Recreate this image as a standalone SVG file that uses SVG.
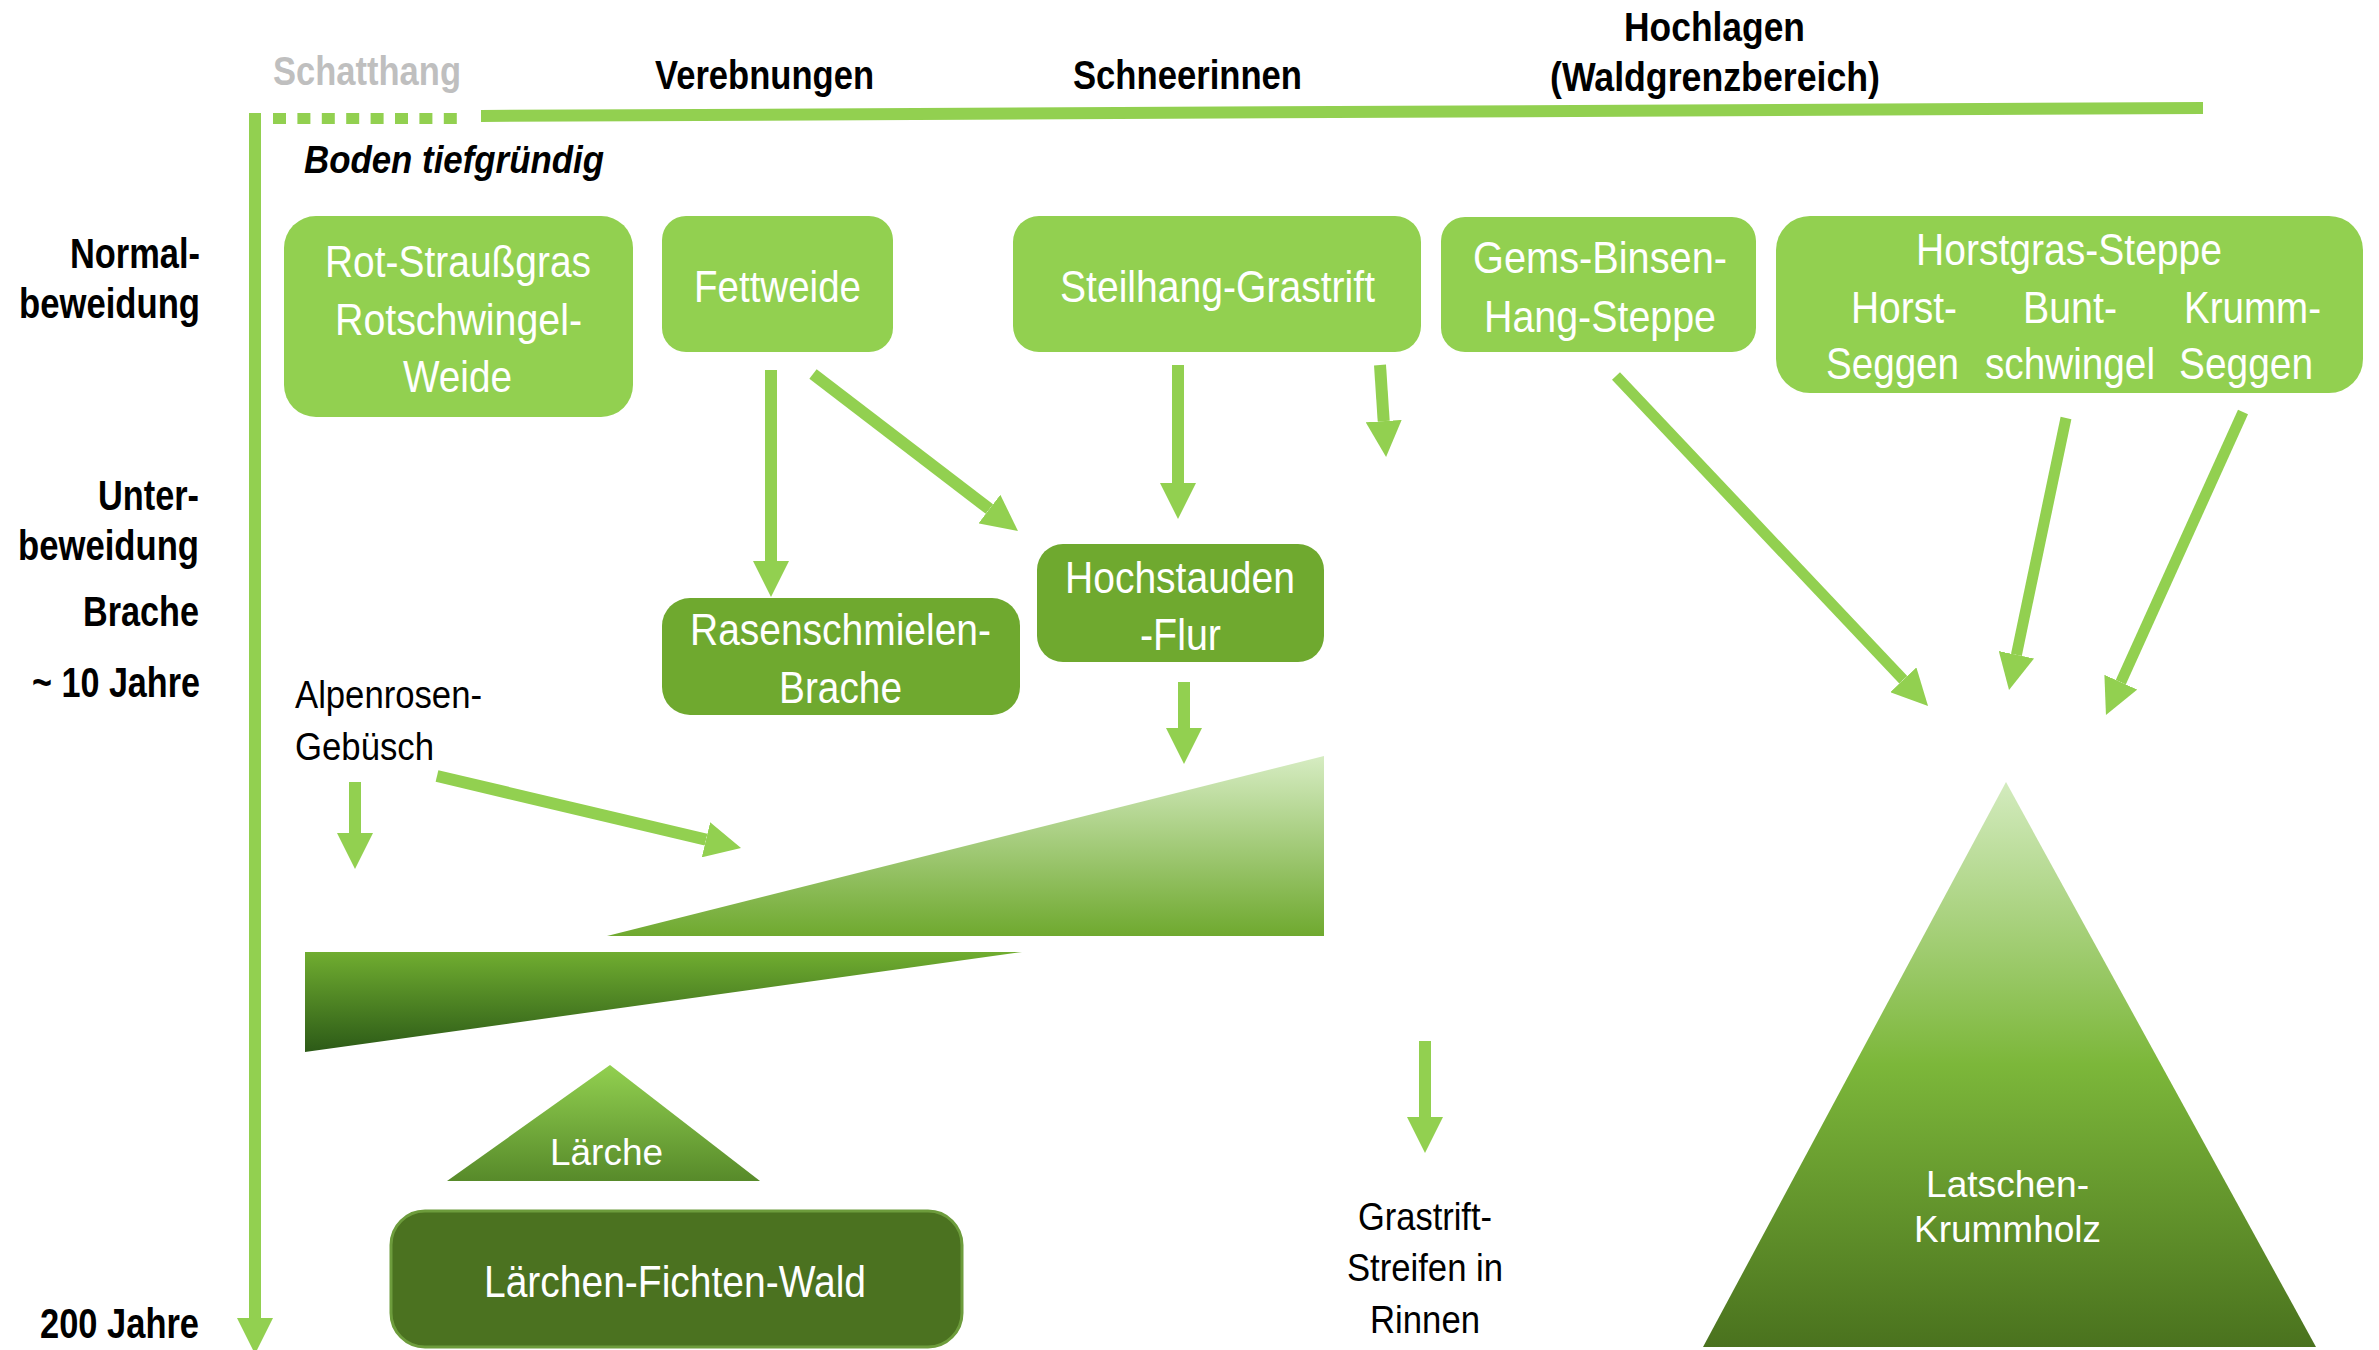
<svg xmlns="http://www.w3.org/2000/svg" width="2379" height="1350" viewBox="0 0 2379 1350">
<style>
text{font-family:"Liberation Sans",Arial,sans-serif}
.lbl{font-weight:bold;font-size:42px;fill:#000}
.hd{font-weight:bold;font-size:41px;fill:#000}
.wt{font-size:45px;fill:#fff}
.wts{font-size:36px;fill:#fff}
.bk{font-size:38px;fill:#000}
.lg{fill:#92d050}
.dg{fill:#6fa92f}
.ax{stroke:#92d050;fill:none}
.arr{stroke:#92d050;stroke-width:12;fill:none;marker-end:url(#ah)}
</style>
<defs>
<marker id="ah" markerUnits="userSpaceOnUse" markerWidth="36" markerHeight="36" viewBox="0 0 36 36" refX="0" refY="18" orient="auto">
<path d="M0,0 L36,18 L0,36 z" fill="#92d050"/>
</marker>
<linearGradient id="gHoch" x1="0" y1="0" x2="0" y2="1"><stop offset="0" stop-color="#d6ecc2"/><stop offset="1" stop-color="#6fa92f"/></linearGradient>
<linearGradient id="gAlp" x1="0" y1="0" x2="0" y2="1"><stop offset="0" stop-color="#70ad30"/><stop offset="1" stop-color="#2c5a17"/></linearGradient>
<linearGradient id="gLae" x1="0" y1="0" x2="0" y2="1"><stop offset="0" stop-color="#92d050"/><stop offset="1" stop-color="#578a2a"/></linearGradient>
<linearGradient id="gLat" x1="0" y1="0" x2="0" y2="1"><stop offset="0" stop-color="#d3ebbe"/><stop offset="0.5" stop-color="#7cb73a"/><stop offset="1" stop-color="#4a721e"/></linearGradient>
</defs>
<rect width="2379" height="1350" fill="#fff"/>

<g id="axes">
<line class="ax" x1="481" y1="116" x2="2203" y2="108" stroke-width="12"/>
<line class="ax" x1="273" y1="118.5" x2="457" y2="118.5" stroke-width="11" stroke-dasharray="13 11.4"/>
<line class="ax" x1="255" y1="113" x2="255" y2="1318" stroke-width="12" marker-end="url(#ah)"/>
</g>

<g id="labels">
<text class="lbl" x="70" y="268" textLength="130" lengthAdjust="spacingAndGlyphs">Normal-</text>
<text class="lbl" x="19" y="318" textLength="181" lengthAdjust="spacingAndGlyphs">beweidung</text>
<text class="lbl" x="98" y="510" textLength="101" lengthAdjust="spacingAndGlyphs">Unter-</text>
<text class="lbl" x="18" y="560" textLength="181" lengthAdjust="spacingAndGlyphs">beweidung</text>
<text class="lbl" x="83" y="626" textLength="116" lengthAdjust="spacingAndGlyphs">Brache</text>
<text class="lbl" x="32" y="697" textLength="168" lengthAdjust="spacingAndGlyphs">~ 10 Jahre</text>
<text class="lbl" x="40" y="1338" textLength="159" lengthAdjust="spacingAndGlyphs">200 Jahre</text>
<text class="hd" x="273" y="85" textLength="188" lengthAdjust="spacingAndGlyphs" fill="#bfbfbf" style="fill:#bfbfbf">Schatthang</text>
<text class="hd" x="655" y="89" textLength="219" lengthAdjust="spacingAndGlyphs">Verebnungen</text>
<text class="hd" x="1073" y="89" textLength="229" lengthAdjust="spacingAndGlyphs">Schneerinnen</text>
<text class="hd" x="1624" y="41" textLength="181" lengthAdjust="spacingAndGlyphs">Hochlagen</text>
<text class="hd" x="1550" y="91" textLength="330" lengthAdjust="spacingAndGlyphs">(Waldgrenzbereich)</text>
<text class="hd" x="304" y="173" textLength="300" lengthAdjust="spacingAndGlyphs" font-style="italic" style="font-size:39px">Boden tiefgründig</text>
</g>

<g id="connectors">
<line class="arr" x1="771" y1="370" x2="771" y2="561"/>
<line class="arr" x1="813" y1="374" x2="989.4" y2="509.1"/>
<line class="arr" x1="1178" y1="365" x2="1178" y2="483"/>
<line class="arr" x1="1380" y1="365" x2="1383.7" y2="421.1"/>
<line class="arr" x1="1184" y1="682" x2="1184" y2="728"/>
<line class="arr" x1="355" y1="782" x2="355" y2="833"/>
<line class="arr" x1="437" y1="776" x2="706" y2="839.7"/>
<line class="arr" x1="1425" y1="1041" x2="1425" y2="1117"/>
<line class="arr" x1="1616" y1="376" x2="1903.3" y2="679.8" style="stroke-width:11"/>
<line class="arr" x1="2066" y1="418" x2="2016.4" y2="654.8" style="stroke-width:11"/>
<line class="arr" x1="2243" y1="412" x2="2120.8" y2="682.2" style="stroke-width:11"/>
</g>

<g id="rotstraussgras">
<rect class="lg" x="284" y="216" width="349" height="201" rx="32"/>
<text class="wt" x="325" y="277" textLength="266" lengthAdjust="spacingAndGlyphs">Rot-Straußgras</text>
<text class="wt" x="335" y="335" textLength="247" lengthAdjust="spacingAndGlyphs">Rotschwingel-</text>
<text class="wt" x="403" y="392" textLength="109" lengthAdjust="spacingAndGlyphs">Weide</text>
</g>
<g id="fettweide">
<rect class="lg" x="662" y="216" width="231" height="136" rx="24"/>
<text class="wt" x="694" y="302" textLength="167" lengthAdjust="spacingAndGlyphs">Fettweide</text>
</g>
<g id="steilhang">
<rect class="lg" x="1013" y="216" width="408" height="136" rx="26"/>
<text class="wt" x="1060" y="302" textLength="315" lengthAdjust="spacingAndGlyphs">Steilhang-Grastrift</text>
</g>
<g id="gemsbinsen">
<rect class="lg" x="1441" y="217" width="315" height="135" rx="24"/>
<text class="wt" x="1473" y="273" textLength="254" lengthAdjust="spacingAndGlyphs">Gems-Binsen-</text>
<text class="wt" x="1484" y="332" textLength="232" lengthAdjust="spacingAndGlyphs">Hang-Steppe</text>
</g>
<g id="horstgras">
<rect class="lg" x="1776" y="216" width="587" height="177" rx="34"/>
<text class="wt" x="1916" y="265" textLength="306" lengthAdjust="spacingAndGlyphs">Horstgras-Steppe</text>
<text class="wt" x="1851" y="323" textLength="106" lengthAdjust="spacingAndGlyphs">Horst-</text>
<text class="wt" x="2023" y="323" textLength="94" lengthAdjust="spacingAndGlyphs">Bunt-</text>
<text class="wt" x="2184" y="323" textLength="137" lengthAdjust="spacingAndGlyphs">Krumm-</text>
<text class="wt" x="1826" y="379" textLength="133" lengthAdjust="spacingAndGlyphs">Seggen</text>
<text class="wt" x="1985" y="379" textLength="170" lengthAdjust="spacingAndGlyphs">schwingel</text>
<text class="wt" x="2179" y="379" textLength="134" lengthAdjust="spacingAndGlyphs">Seggen</text>
</g>
<g id="rasenschmielen">
<rect class="dg" x="662" y="598" width="358" height="117" rx="28"/>
<text class="wt" x="690" y="645" textLength="301" lengthAdjust="spacingAndGlyphs">Rasenschmielen-</text>
<text class="wt" x="779" y="703" textLength="123" lengthAdjust="spacingAndGlyphs">Brache</text>
</g>
<g id="hochstauden">
<rect class="dg" x="1037" y="544" width="287" height="118" rx="26"/>
<text class="wt" x="1065" y="593" textLength="230" lengthAdjust="spacingAndGlyphs">Hochstauden</text>
<text class="wt" x="1140" y="650" textLength="81" lengthAdjust="spacingAndGlyphs">-Flur</text>
</g>
<g id="hochstauden-keil">
<polygon points="607,936 1324,936 1324,756" fill="url(#gHoch)"/>
</g>
<g id="alpenrosen">
<text class="bk" x="295" y="708" textLength="187" lengthAdjust="spacingAndGlyphs">Alpenrosen-</text>
<text class="bk" x="295" y="760" textLength="139" lengthAdjust="spacingAndGlyphs">Gebüsch</text>
</g>
<g id="alpenrosen-keil">
<polygon points="305,952 1022,952 305,1052" fill="url(#gAlp)"/>
</g>
<g id="laerche">
<polygon points="610,1065 760,1181 447,1181" fill="url(#gLae)"/>
<text class="wts" x="550" y="1165" textLength="113" lengthAdjust="spacingAndGlyphs">Lärche</text>
</g>
<g id="laerchen-fichten-wald">
<rect x="391" y="1211" width="571" height="136" rx="34" fill="#4b7220" stroke="#6d9c3c" stroke-width="3"/>
<text class="wt" x="484" y="1297" textLength="382" lengthAdjust="spacingAndGlyphs">Lärchen-Fichten-Wald</text>
</g>
<g id="grastrift-streifen">
<text class="bk" x="1358" y="1230" textLength="134" lengthAdjust="spacingAndGlyphs">Grastrift-</text>
<text class="bk" x="1347" y="1281" textLength="156" lengthAdjust="spacingAndGlyphs">Streifen in</text>
<text class="bk" x="1370" y="1333" textLength="110" lengthAdjust="spacingAndGlyphs">Rinnen</text>
</g>
<g id="latschen">
<polygon points="2006,782 2316,1347 1703,1347" fill="url(#gLat)"/>
<text class="wts" x="1926" y="1197" textLength="163" lengthAdjust="spacingAndGlyphs">Latschen-</text>
<text class="wts" x="1914" y="1242" textLength="187" lengthAdjust="spacingAndGlyphs">Krummholz</text>
</g>
</svg>
